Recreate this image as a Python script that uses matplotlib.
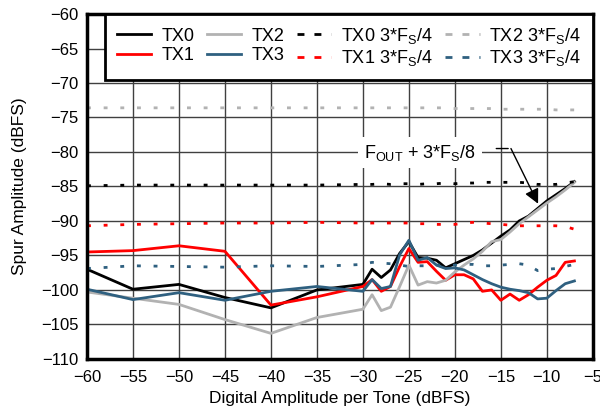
import matplotlib
matplotlib.use("Agg")
import matplotlib.pyplot as plt

plt.rcParams['font.family'] = ['Liberation Sans', 'DejaVu Sans']

# digital amplitude per tone (dBFS)
amp = [-60, -55, -50, -45, -40, -35, -30, -29, -28, -27, -26, -25, -24, -23, -22,
       -21, -20, -19, -18, -17, -16, -15, -14, -13, -12, -11, -10, -9, -8, -7]

tx0 = [-97.0, -99.9, -99.2, -101.1, -102.6, -100.0, -99.2, -97.0, -98.2, -97.1,
       -94.7, -93.0, -95.3, -95.4, -95.7, -96.8, -96.2, -95.6, -95.0, -94.2,
       -93.2, -92.2, -91.3, -90.0, -89.3, -88.2, -87.1, -86.2, -85.3, -84.3]
tx1 = [-94.5, -94.3, -93.6, -94.4, -102.2, -101.0, -99.5, -98.5, -100.2, -99.5,
       -96.6, -94.0, -96.0, -95.9, -97.3, -98.6, -97.8, -97.8, -98.4, -100.2,
       -100.0, -101.5, -100.6, -101.5, -100.7, -99.6, -98.6, -97.9, -96.0, -95.8]
tx2 = [-100.3, -101.2, -102.1, -104.3, -106.3, -104.0, -102.8, -100.7, -103.0, -102.5,
       -99.5, -96.4, -99.3, -98.8, -99.0, -98.6, -97.4, -96.4, -95.5, -94.4,
       -93.0, -92.7, -91.6, -90.4, -89.4, -88.4, -87.4, -86.5, -85.5, -84.4]
tx3 = [-99.9, -101.4, -100.4, -101.5, -100.2, -99.5, -100.2, -98.5, -99.8, -99.5,
       -94.9, -92.8, -95.7, -95.3, -96.4, -96.9, -96.8, -97.1, -97.8, -98.5,
       -99.1, -99.6, -99.9, -100.1, -100.4, -101.3, -101.2, -100.1, -99.1, -98.7]

# 3*Fs/4 images
tx0_d = [-84.9, -84.8, -84.8, -84.8, -84.8, -84.8, -84.7, -84.7, -84.6, -84.7,
         -84.6, -84.6, -84.7, -84.6, -84.6, -84.5, -84.6, -84.5, -84.5, -84.4,
         -84.4, -84.4, -84.4, -84.4, -84.5, -84.7, -84.7, -84.7, -84.5, -84.3]
tx1_d = [-90.7, -90.5, -90.4, -90.3, -90.3, -90.2, -90.3, -90.3, -90.3, -90.3,
         -90.3, -90.3, -90.4, -90.4, -90.5, -90.5, -90.5, -90.3, -90.2, -90.3,
         -90.4, -90.5, -90.6, -90.7, -90.7, -90.7, -90.7, -90.7, -90.8, -91.2]
tx2_d = [-73.6, -73.6, -73.6, -73.6, -73.6, -73.6, -73.6, -73.6, -73.6, -73.6,
         -73.6, -73.6, -73.6, -73.6, -73.6, -73.6, -73.7, -73.7, -73.7, -73.7,
         -73.7, -73.8, -73.8, -73.8, -73.8, -73.8, -73.8, -73.9, -73.9, -73.9]
tx3_d = [-96.9, -96.5, -96.6, -96.7, -96.5, -96.6, -96.3, -96.0, -96.1, -96.2,
         -96.4, -96.6, -96.5, -96.5, -96.4, -96.4, -96.4, -96.3, -96.3, -96.5,
         -96.5, -96.4, -96.3, -96.2, -96.4, -97.2, -97.0, -96.9, -96.6, -96.3]

x_ticks = list(range(-60, 0, 5))
y_ticks = list(range(-110, -55, 5))

c_gray = "#b2b2b2"
c_blue = "#2f6080"

fig = plt.figure(figsize=(6.0, 4.13), dpi=100)
ax = fig.add_axes([0.145, 0.131, 0.843, 0.835])

dash = (1.4, 4.6)
ax.plot(amp, tx0, color="black", lw=2, label="TX0")
ax.plot(amp, tx1, color="red", lw=2, label="TX1")
ax.plot(amp, tx2, color=c_gray, lw=2, label="TX2")
ax.plot(amp, tx3, color=c_blue, lw=2, label="TX3")
ax.plot(amp, tx0_d, color="black", lw=2, dashes=dash, label=r"TX0 3*F$_\mathregular{S}$/4")
ax.plot(amp, tx1_d, color="red", lw=2, dashes=dash, label=r"TX1 3*F$_\mathregular{S}$/4")
ax.plot(amp, tx2_d, color=c_gray, lw=2, dashes=dash, label=r"TX2 3*F$_\mathregular{S}$/4")
ax.plot(amp, tx3_d, color=c_blue, lw=2, dashes=dash, label=r"TX3 3*F$_\mathregular{S}$/4")

ax.set_xlim(-60, -5)
ax.set_ylim(-110, -60)
ax.set_xticks(x_ticks)
ax.set_yticks(y_ticks)
ax.tick_params(length=0, labelsize=12)
ax.tick_params(axis="x", pad=8)
ax.tick_params(axis="y", pad=6)
ax.grid(True, color="#404040", lw=1)
ax.set_axisbelow(True)
for s in ax.spines.values():
    s.set_linewidth(2.5)
    s.set_color("black")

ax.set_xlabel("Digital Amplitude per Tone (dBFS)", fontsize=12.5, labelpad=4)
ax.set_ylabel("Spur Amplitude (dBFS)", fontsize=12.5, labelpad=10)

leg = ax.legend(ncol=4, loc="upper right", bbox_to_anchor=(1.0, 1.0),
                fontsize=13, frameon=True, fancybox=False, borderaxespad=0,
                handlelength=1.9, columnspacing=0.7, handletextpad=0.55,
                labelspacing=0.12, borderpad=0.65)
leg.get_frame().set_edgecolor("black")
leg.get_frame().set_linewidth(2)
leg.get_frame().set_alpha(1)
for ln in leg.get_lines()[4:]:
    ln.set_dashes((2.5, 3.6))

# annotation
ax.text(-23.8, -80.1, r"F$_\mathregular{OUT}$ + 3*F$_\mathregular{S}$/8", fontsize=13,
        ha="center", va="center",
        bbox=dict(facecolor="white", edgecolor="none", pad=4))
ax.annotate("", xy=(-13.9, -79.5), xytext=(-15.8, -79.5),
            arrowprops=dict(arrowstyle="-", color="black", lw=1))
ax.annotate("", xy=(-10.95, -87.5), xytext=(-13.9, -79.5),
            arrowprops=dict(arrowstyle="-|>", color="black", lw=1,
                            mutation_scale=22, shrinkA=0, shrinkB=0))

fig.savefig("out.png", dpi=100)
